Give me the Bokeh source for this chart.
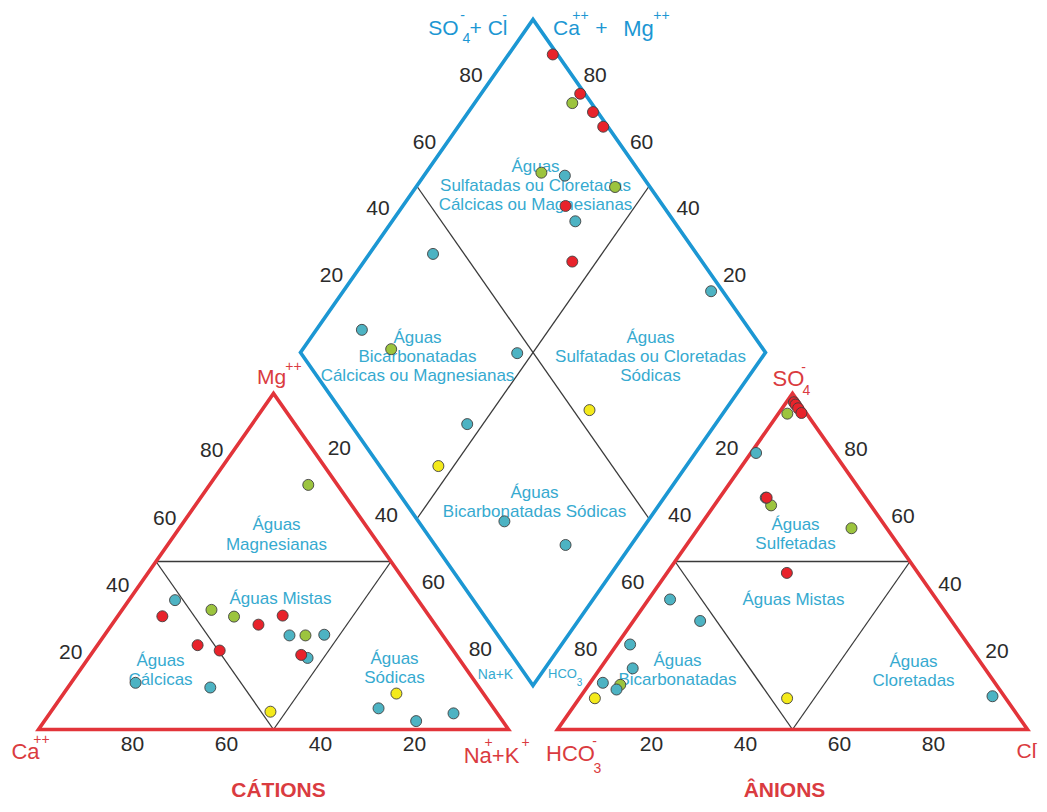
import numpy as np
from bokeh.plotting import figure
from bokeh.models import Range1d, ColumnDataSource
from bokeh.core.properties import value
from bokeh.embed import file_html
from bokeh.resources import INLINE

# ---------------- data (% of meq) ----------------
GROUP = ["green"] * 4 + ["teal"] * 9 + ["red"] * 6 + ["yellow"] * 2
# cations
CA  = [6.2, 41.6, 29.2, 45.4,  51.7, 72.4, 57.2, 32.6, 25.1, 32.1, 24.5, 18.4, 9.3,  56.8, 53.6, 49.7, 37.6, 31.1, 33.0,  18.5, 48.0]
MG  = [72.8, 33.6, 28.0, 35.6,  38.5, 13.9, 12.5, 28.0, 28.2, 21.3, 6.3, 2.5, 4.8,  33.7, 25.1, 23.5, 31.2, 33.9, 22.2,  10.7, 5.3]
NAK = [21.0, 24.8, 42.8, 19.0,  9.8, 13.7, 30.3, 39.4, 46.7, 46.6, 69.2, 79.1, 85.9,  9.5, 21.3, 26.8, 31.2, 35.0, 44.8,  70.8, 46.7]
# anions
HCO3 = [4.1, 21.2, 7.5, 80.0,  83.4, 56.7, 16.6, 21.2, 53.5, 74.9, 81.5, 2.5, 71.9,  1.0, 1.0, 1.0, 1.0, 21.0, 27.9,  46.5, 87.4]
SO4  = [94.0, 66.7, 59.9, 13.3,  13.9, 38.7, 82.3, 69.0, 32.3, 18.2, 11.9, 9.9, 25.3,  97.4, 96.7, 95.6, 94.2, 69.0, 46.6,  9.3, 9.3]
CL   = [1.9, 12.1, 32.6, 6.7,  2.7, 4.6, 1.1, 9.8, 14.2, 6.9, 6.6, 87.6, 2.8,  1.6, 2.3, 3.4, 4.8, 10.0, 25.5,  44.2, 3.3]

TICKS = [20, 40, 60, 80]

# ---------------- style ----------------
FILL = {"green": "#9CC43E", "teal": "#4DB3C3", "red": "#E8232B", "yellow": "#F4EA1B"}
RED_LINE = "#E2343A"
BLUE_LINE = "#1C97D3"
REGION_TXT = "#36AAD0"
TICK_TXT = "#2b2b2b"
RED_TXT = "#DA3B40"
FONT = value("Liberation Sans")

H = 812  # layout given in picture pixels (y down) -> plot coords (y up)


def P(x, y):
    return np.array([x, H - y], dtype=float)


# geometry
CA_V, NA_V, MG_V = P(38, 729), P(508, 729), P(273, 393)
HC_V, CL_V, SO_V = P(557, 729), P(1027, 729), P(792, 393)
DB, DL, DR = P(532.5, 685), P(300, 352), P(765, 352)
DT = DL + DR - DB


def tern(o, a, b, fa, fb):
    return o + (a - o) * fa + (b - o) * fb


p = figure(width=1039, height=804, x_range=Range1d(0, 1039), y_range=Range1d(H - 804, H),
           output_backend="svg", toolbar_location=None, min_border=0,
           x_axis_type=None, y_axis_type=None)
p.grid.visible = False
p.outline_line_color = None
p.background_fill_color = "white"
p.border_fill_color = "white"

# ---------------- inner division lines ----------------
def seg(a, b):
    p.line([a[0], b[0]], [a[1], b[1]], line_color="#3a3a3a", line_width=1.3)

for (o, a, b) in [(CA_V, NA_V, MG_V), (HC_V, CL_V, SO_V)]:
    ml = tern(o, a, b, 0, 0.5)
    mr = tern(o, a, b, 0.5, 0.5)
    mb = tern(o, a, b, 0.5, 0)
    seg(ml, mr); seg(ml, mb); seg(mr, mb)

seg(tern(DB, DL, DR, 1.0, 0.5), tern(DB, DL, DR, 0.0, 0.5))
seg(tern(DB, DL, DR, 0.5, 1.0), tern(DB, DL, DR, 0.5, 0.0))

# ---------------- outlines ----------------
for verts, col in [((CA_V, NA_V, MG_V), RED_LINE), ((HC_V, CL_V, SO_V), RED_LINE),
                   ((DB, DR, DT, DL), BLUE_LINE)]:
    p.patch([v[0] for v in verts], [v[1] for v in verts], fill_color=None,
            line_color=col, line_width=3.6, line_join="miter")

# ---------------- tick labels ----------------
def edge_labels(A, B, off, inside):
    d = (B - A) / np.linalg.norm(B - A)
    n = np.array([-d[1], d[0]])
    if np.dot((A + B) / 2 - inside, n) < 0:
        n = -n
    pts = [A + (B - A) * v / 100.0 + n * off for v in TICKS]
    return [q[0] for q in pts], [q[1] for q in pts]

LC = (CA_V + NA_V + MG_V) / 3
RC = (HC_V + CL_V + SO_V) / 3
DC = (DB + DT) / 2
tx, ty, tt = [], [], []
for A, B, off, c in [(CA_V, MG_V, 18, LC), (MG_V, NA_V, 23, LC), (NA_V, CA_V, 14, LC),
                     (SO_V, HC_V, 23, RC), (CL_V, SO_V, 20, RC), (HC_V, CL_V, 14, RC),
                     (DL, DT, 19, DC), (DR, DT, 19, DC)]:
    xs, ys = edge_labels(A, B, off, c)
    tx += xs; ty += ys; tt += [str(v) for v in TICKS]
p.text(x=tx, y=ty, text=tt, text_font=FONT, text_font_size=value("21px"),
       text_color=TICK_TXT, text_align="center", text_baseline="middle")

# ---------------- region labels ----------------
REGIONS = [
    ("Águas", 535, 166), ("Sulfatadas ou Cloretadas", 535, 185), ("Cálcicas ou Magnesianas", 535, 204),
    ("Águas", 417, 337), ("Bicarbonatadas", 417, 356), ("Cálcicas ou Magnesianas", 417, 375),
    ("Águas", 650, 337), ("Sulfatadas ou Cloretadas", 650, 356), ("Sódicas", 650, 375),
    ("Águas", 534, 492), ("Bicarbonatadas Sódicas", 534, 511),
    ("Águas", 276, 524), ("Magnesianas", 276, 544), ("Águas Mistas", 280, 598),
    ("Águas", 160, 660), ("Cálcicas", 160, 679), ("Águas", 394, 658), ("Sódicas", 394, 677),
    ("Águas", 795, 524), ("Sulfetadas", 795, 543), ("Águas Mistas", 793, 599),
    ("Águas", 677, 660), ("Bicarbonatadas", 677, 679), ("Águas", 913, 661), ("Cloretadas", 913, 680),
]
p.text(x=[r[1] for r in REGIONS], y=[H - r[2] for r in REGIONS], text=[r[0] for r in REGIONS],
       text_font=FONT, text_font_size=value("17px"), text_color=REGION_TXT,
       text_align="center", text_baseline="middle")

# ---------------- axis / vertex labels ----------------
LABELS = [
    # text, x, y, size, color, style
    ("Ca", 25, 751, 22, RED_TXT, "normal"), ("++", 41, 738, 14, RED_TXT, "normal"),
    ("Na+K", 491, 755, 22, RED_TXT, "normal"), ("+", 488, 741, 14, RED_TXT, "normal"),
    ("+", 525, 741, 14, RED_TXT, "normal"),
    ("Mg", 271, 376, 21, RED_TXT, "normal"), ("++", 293, 365, 14, RED_TXT, "normal"),
    ("HCO", 570, 753, 22, RED_TXT, "normal"), ("3", 597, 767, 14, RED_TXT, "normal"),
    ("-", 594, 740, 14, RED_TXT, "normal"),
    ("Cl", 1026, 750, 21, RED_TXT, "normal"), ("-", 1035, 742, 12, RED_TXT, "normal"),
    ("SO", 788, 378, 22, RED_TXT, "normal"), ("4", 806, 389, 14, RED_TXT, "normal"),
    ("-", 803, 366, 14, RED_TXT, "normal"),
    ("CÁTIONS", 278, 789, 21, RED_TXT, "bold"), ("ÂNIONS", 784, 789, 21, RED_TXT, "bold"),
    ("SO", 443, 27, 21, BLUE_LINE, "normal"), ("4", 466, 37, 14, BLUE_LINE, "normal"),
    ("-", 462, 14, 14, BLUE_LINE, "normal"), ("+ Cl", 488, 27, 21, BLUE_LINE, "normal"),
    ("-", 504, 14, 14, BLUE_LINE, "normal"),
    ("Ca", 566, 27, 21, BLUE_LINE, "normal"), ("++", 580, 14, 14, BLUE_LINE, "normal"),
    ("+", 601, 27, 21, BLUE_LINE, "normal"), ("Mg", 638, 28, 22, BLUE_LINE, "normal"),
    ("++", 661, 14, 14, BLUE_LINE, "normal"),
    ("Na+K", 495, 673, 14, REGION_TXT, "normal"),
    ("HCO", 562, 673, 13, REGION_TXT, "normal"), ("3", 579, 681, 10, REGION_TXT, "normal"),
]
for t, x, y, s, c, st in LABELS:
    p.text(x=[x], y=[H - y], text=[t], text_font=FONT, text_font_size=value(f"{s}px"),
           text_color=c, text_font_style=st, text_align="center", text_baseline="middle")

# ---------------- data points ----------------
ca, mg, na = np.array(CA), np.array(MG), np.array(NAK)
hc, so, cl = np.array(HCO3), np.array(SO4), np.array(CL)
tc = ca + mg + na
ta = hc + so + cl
cat = [tern(CA_V, NA_V, MG_V, na[i] / tc[i], mg[i] / tc[i]) for i in range(len(GROUP))]
ani = [tern(HC_V, CL_V, SO_V, cl[i] / ta[i], so[i] / ta[i]) for i in range(len(GROUP))]
dia = [tern(DB, DL, DR, (ca[i] + mg[i]) / tc[i], (so[i] + cl[i]) / ta[i]) for i in range(len(GROUP))]

for g in ["green", "teal", "red", "yellow"]:
    idx = [i for i, gg in enumerate(GROUP) if gg == g]
    for pts in (cat, ani, dia):
        src = ColumnDataSource(dict(x=[pts[i][0] for i in idx], y=[pts[i][1] for i in idx]))
        p.scatter("x", "y", source=src, size=11, marker="circle", fill_color=FILL[g],
                  line_color="#404040", line_width=0.9)

open("out.html", "w").write(file_html(p, INLINE))
